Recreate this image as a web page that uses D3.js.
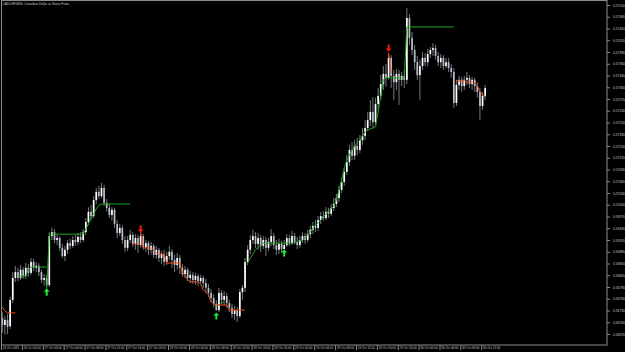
<!DOCTYPE html>
<html>
<head>
<meta charset="utf-8">
<script src="https://cdn.jsdelivr.net/npm/d3@7"></script>
<style>
  html, body { margin: 0; background: #000; }
  svg { display: block; }
</style>
</head>
<body>
<svg id="chart" width="625" height="352"></svg>
<script>
// CADCHF M30 - bars
const symbolTitle = "CADCHF,M30:  Canadian Dollar vs Swiss Franc";

const opens = [
  0.56711,0.56693,0.56706,0.56690,0.56757,0.56813,0.56828,0.56813,0.56834,0.56818,
  0.56839,0.56826,0.56854,0.56839,0.56844,0.56828,0.56808,0.56813,0.56795,0.56920,
  0.56930,0.56910,0.56915,0.56890,0.56869,0.56885,0.56902,0.56895,0.56910,0.56905,
  0.56918,0.56910,0.56930,0.56956,0.56982,0.56971,0.57012,0.57033,0.57022,0.57043,
  0.57005,0.56992,0.56974,0.56987,0.56951,0.56928,0.56941,0.56910,0.56890,0.56910,
  0.56923,0.56900,0.56915,0.56897,0.56920,0.56892,0.56902,0.56885,0.56895,0.56872,
  0.56885,0.56864,0.56874,0.56854,0.56869,0.56880,0.56859,0.56846,0.56864,0.56839,
  0.56823,0.56834,0.56813,0.56821,0.56808,0.56818,0.56805,0.56813,0.56800,0.56788,
  0.56775,0.56762,0.56747,0.56731,0.56775,0.56757,0.56767,0.56749,0.56737,0.56721,
  0.56731,0.56716,0.56777,0.56788,0.56854,0.56885,0.56910,0.56920,0.56900,0.56915,
  0.56895,0.56910,0.56890,0.56905,0.56920,0.56897,0.56885,0.56900,0.56887,0.56897,
  0.56915,0.56902,0.56920,0.56905,0.56897,0.56910,0.56920,0.56910,0.56925,0.56936,
  0.56946,0.56941,0.56961,0.56971,0.56966,0.56982,0.56977,0.56992,0.57002,0.57017,
  0.57038,0.57058,0.57084,0.57109,0.57140,0.57125,0.57150,0.57140,0.57165,0.57176,
  0.57196,0.57216,0.57237,0.57211,0.57257,0.57278,0.57308,0.57334,0.57324,0.57375,
  0.57329,0.57313,0.57334,0.57319,0.57329,0.57319,0.57477,0.57426,0.57395,0.57364,
  0.57331,0.57354,0.57375,0.57364,0.57385,0.57395,0.57400,0.57380,0.57364,0.57375,
  0.57354,0.57364,0.57349,0.57339,0.57260,0.57306,0.57319,0.57303,0.57319,0.57324,
  0.57308,0.57319,0.57303,0.57288,0.57252,0.57278
];
const highs = [
  0.56726,0.56716,0.56721,0.56765,0.56828,0.56844,0.56839,0.56846,0.56841,0.56851,
  0.56849,0.56864,0.56862,0.56854,0.56851,0.56834,0.56823,0.56821,0.56930,0.56941,
  0.56938,0.56925,0.56920,0.56900,0.56895,0.56910,0.56913,0.56920,0.56923,0.56928,
  0.56930,0.56938,0.56966,0.56994,0.56999,0.57022,0.57043,0.57048,0.57056,0.57051,
  0.57015,0.57002,0.56994,0.56992,0.56961,0.56951,0.56948,0.56920,0.56920,0.56936,
  0.56930,0.56925,0.56923,0.56930,0.56925,0.56910,0.56908,0.56905,0.56900,0.56895,
  0.56890,0.56882,0.56885,0.56880,0.56895,0.56887,0.56872,0.56877,0.56872,0.56849,
  0.56844,0.56839,0.56831,0.56828,0.56826,0.56823,0.56821,0.56818,0.56811,0.56798,
  0.56785,0.56772,0.56757,0.56788,0.56782,0.56780,0.56775,0.56757,0.56747,0.56742,
  0.56739,0.56785,0.56795,0.56864,0.56897,0.56923,0.56936,0.56930,0.56928,0.56923,
  0.56920,0.56918,0.56915,0.56938,0.56928,0.56910,0.56913,0.56908,0.56910,0.56925,
  0.56923,0.56933,0.56928,0.56918,0.56920,0.56930,0.56928,0.56936,0.56946,0.56956,
  0.56961,0.56971,0.56982,0.56984,0.56994,0.56992,0.57002,0.57017,0.57028,0.57048,
  0.57068,0.57094,0.57127,0.57153,0.57160,0.57165,0.57171,0.57178,0.57196,0.57216,
  0.57237,0.57267,0.57275,0.57273,0.57298,0.57331,0.57354,0.57359,0.57387,0.57382,
  0.57344,0.57347,0.57344,0.57339,0.57344,0.57502,0.57487,0.57441,0.57408,0.57380,
  0.57370,0.57390,0.57387,0.57398,0.57403,0.57413,0.57408,0.57390,0.57385,0.57382,
  0.57375,0.57375,0.57359,0.57349,0.57319,0.57329,0.57326,0.57329,0.57339,0.57331,
  0.57326,0.57324,0.57313,0.57298,0.57288,0.57306
];
const lows = [
  0.56673,0.56668,0.56670,0.56683,0.56749,0.56803,0.56805,0.56808,0.56811,0.56811,
  0.56816,0.56821,0.56831,0.56828,0.56818,0.56800,0.56793,0.56790,0.56790,0.56910,
  0.56902,0.56897,0.56882,0.56864,0.56856,0.56874,0.56887,0.56890,0.56895,0.56897,
  0.56902,0.56905,0.56923,0.56948,0.56961,0.56966,0.57002,0.57015,0.57017,0.56997,
  0.56982,0.56966,0.56959,0.56941,0.56915,0.56920,0.56900,0.56880,0.56882,0.56902,
  0.56892,0.56885,0.56877,0.56890,0.56885,0.56880,0.56872,0.56874,0.56864,0.56862,
  0.56854,0.56849,0.56844,0.56846,0.56859,0.56839,0.56828,0.56834,0.56823,0.56816,
  0.56813,0.56805,0.56800,0.56798,0.56795,0.56793,0.56798,0.56788,0.56777,0.56765,
  0.56752,0.56737,0.56729,0.56726,0.56747,0.56742,0.56737,0.56726,0.56711,0.56706,
  0.56701,0.56711,0.56757,0.56777,0.56846,0.56874,0.56900,0.56890,0.56885,0.56880,
  0.56887,0.56869,0.56882,0.56895,0.56887,0.56872,0.56874,0.56877,0.56887,0.56892,
  0.56895,0.56897,0.56900,0.56887,0.56890,0.56902,0.56900,0.56905,0.56915,0.56925,
  0.56930,0.56933,0.56951,0.56959,0.56961,0.56966,0.56971,0.56984,0.56994,0.57007,
  0.57030,0.57048,0.57076,0.57099,0.57114,0.57114,0.57127,0.57132,0.57153,0.57165,
  0.57188,0.57201,0.57196,0.57204,0.57242,0.57267,0.57293,0.57301,0.57319,0.57298,
  0.57267,0.57293,0.57255,0.57303,0.57298,0.57308,0.57408,0.57382,0.57344,0.57319,
  0.57267,0.57344,0.57354,0.57354,0.57375,0.57380,0.57370,0.57354,0.57349,0.57344,
  0.57347,0.57339,0.57324,0.57247,0.57252,0.57293,0.57288,0.57293,0.57306,0.57298,
  0.57293,0.57288,0.57273,0.57216,0.57242,0.57267
];
const closes = [
  0.56693,0.56706,0.56688,0.56757,0.56813,0.56828,0.56813,0.56834,0.56818,0.56839,
  0.56826,0.56854,0.56839,0.56844,0.56828,0.56808,0.56813,0.56795,0.56920,0.56930,
  0.56910,0.56915,0.56890,0.56869,0.56885,0.56902,0.56895,0.56910,0.56905,0.56918,
  0.56910,0.56930,0.56956,0.56982,0.56971,0.57012,0.57033,0.57022,0.57043,0.57005,
  0.56992,0.56974,0.56987,0.56951,0.56928,0.56941,0.56910,0.56890,0.56910,0.56923,
  0.56900,0.56915,0.56897,0.56920,0.56892,0.56902,0.56885,0.56895,0.56872,0.56885,
  0.56864,0.56874,0.56854,0.56869,0.56880,0.56859,0.56846,0.56864,0.56839,0.56823,
  0.56834,0.56813,0.56821,0.56808,0.56818,0.56805,0.56813,0.56800,0.56788,0.56775,
  0.56762,0.56747,0.56731,0.56775,0.56757,0.56767,0.56749,0.56737,0.56721,0.56731,
  0.56716,0.56777,0.56788,0.56854,0.56885,0.56910,0.56920,0.56900,0.56915,0.56895,
  0.56910,0.56890,0.56905,0.56920,0.56897,0.56885,0.56900,0.56887,0.56897,0.56915,
  0.56902,0.56920,0.56905,0.56897,0.56910,0.56920,0.56910,0.56925,0.56936,0.56946,
  0.56941,0.56961,0.56971,0.56966,0.56982,0.56977,0.56992,0.57002,0.57017,0.57038,
  0.57058,0.57084,0.57109,0.57140,0.57125,0.57150,0.57140,0.57165,0.57176,0.57196,
  0.57216,0.57237,0.57211,0.57257,0.57278,0.57308,0.57334,0.57324,0.57375,0.57329,
  0.57313,0.57334,0.57319,0.57329,0.57319,0.57477,0.57426,0.57395,0.57364,0.57331,
  0.57354,0.57375,0.57364,0.57385,0.57395,0.57400,0.57380,0.57364,0.57375,0.57354,
  0.57364,0.57349,0.57339,0.57260,0.57306,0.57319,0.57303,0.57319,0.57324,0.57308,
  0.57319,0.57303,0.57288,0.57252,0.57278,0.57298
];

// indicator line vertices: [bar index, price]
const upLines = [
  [[6,0.56818],[9,0.56818],[10,0.56834],[11,0.56841],[17,0.56841]],
  [[17,0.56782],[18,0.56925],[31,0.56925],[32,0.56938],[33,0.56951],[34,0.56964],[35,0.56977],[36,0.56989],[37,0.56999],[38,0.57002],[49,0.57002]],
  [[82,0.56739],[83,0.56744],[84,0.56749],[85,0.56752]],
  [[94,0.56851],[95,0.56864],[96,0.56874],[97,0.56885],[98,0.56890],[99,0.56897],[100,0.56902],[112,0.56902],[113,0.56905],[114,0.56908],[115,0.56910],[116,0.56915],[117,0.56923],[118,0.56930],[119,0.56941],[120,0.56948],[121,0.56954],[122,0.56961],[123,0.56969],[124,0.56977],[125,0.56984],[126,0.56989],[127,0.56997],[128,0.57012],[129,0.57038],[130,0.57063],[131,0.57094],[132,0.57114],[133,0.57127],[134,0.57140],[135,0.57148],[136,0.57158],[137,0.57165],[138,0.57176],[139,0.57186],[140,0.57191],[141,0.57194],[142,0.57196],[143,0.57199],[144,0.57237],[145,0.57278],[146,0.57319],[147,0.57324],[154,0.57324],[155,0.57454],[173,0.57454]]
];
const downLines = [
  [[0,0.56739],[1,0.56729],[2,0.56724],[5,0.56724]],
  [[50,0.56900],[53,0.56900]],
  [[53,0.56930],[54,0.56890],[57,0.56890],[58,0.56885],[59,0.56877],[60,0.56874],[62,0.56874],[63,0.56851],[68,0.56851],[69,0.56828],[70,0.56818],[71,0.56808],[72,0.56803],[75,0.56803],[76,0.56798],[77,0.56782],[78,0.56777],[79,0.56770],[80,0.56752],[81,0.56747],[82,0.56744],[86,0.56744],[87,0.56731],[93,0.56731]],
  [[148,0.57387],[149,0.57336]],
  [[174,0.57316],[177,0.57316],[178,0.57313],[180,0.57313],[181,0.57311],[182,0.57303],[183,0.57290],[184,0.57280],[185,0.57275]]
];

// signal arrows: [bar index, price]
const buyArrows = [[17,0.56777],[82,0.56716],[108,0.56877]];
const sellArrows = [[53,0.56938],[148,0.57400]];

const priceTicks = [0.57510,0.57480,0.57450,0.57420,0.57390,0.57360,0.57330,0.57300,0.57270,0.57240,
  0.57210,0.57180,0.57150,0.57120,0.57090,0.57060,0.57030,0.57000,0.56970,0.56940,
  0.56910,0.56880,0.56850,0.56820,0.56790,0.56760,0.56730,0.56700,0.56670];

const timeLabels = ["24 Oct 2025","24 Oct 20:00","27 Oct 00:00","27 Oct 04:00","27 Oct 08:00","27 Oct 12:00",
  "27 Oct 16:00","27 Oct 20:00","28 Oct 00:00","28 Oct 04:00","28 Oct 08:00","28 Oct 12:00",
  "28 Oct 16:00","28 Oct 20:00","29 Oct 00:00","29 Oct 04:00","29 Oct 08:00","29 Oct 12:00",
  "29 Oct 16:00","29 Oct 20:00","30 Oct 00:00","30 Oct 04:00","30 Oct 08:00","30 Oct 12:00"];
const barsPerLabel = 8; // 4h / 30min

const W = 625, H = 352;
const plotLeft = 1, plotRight = 607, plotTop = 1, plotBottom = 345;
const barStep = 2.61;
const font = "'Liberation Sans', Arial, sans-serif";

const svg = d3.select("#chart");
svg.append("rect").attr("width", W).attr("height", H).attr("fill", "#000");

const x = d3.scaleLinear().domain([0, 232]).range([plotLeft, plotLeft + 232 * barStep]);
const xc = i => x(i) + barStep / 2;
const y = d3.scaleLinear().domain([0.56670, 0.57510]).range([334, 5]);

// candles
const bars = d3.range(closes.length);
const g = svg.append("g");
g.selectAll("line.wick").data(bars).join("line")
  .attr("class", "wick")
  .attr("x1", i => xc(i)).attr("x2", i => xc(i))
  .attr("y1", i => y(highs[i])).attr("y2", i => y(lows[i]))
  .attr("stroke", "#8f969f").attr("stroke-width", 0.8);
g.selectAll("rect.body").data(bars).join("rect")
  .attr("class", "body")
  .attr("x", i => xc(i) - 0.85).attr("width", 1.7)
  .attr("y", i => y(Math.max(opens[i], closes[i])))
  .attr("height", i => Math.max(0.8, Math.abs(y(opens[i]) - y(closes[i]))))
  .attr("fill", i => closes[i] >= opens[i] ? "#ffffff" : "#b6bec9");

// indicator lines
const line = d3.line().x(d => xc(d[0])).y(d => y(d[1]));
svg.append("g").selectAll("path").data(upLines).join("path")
  .attr("d", line).attr("fill", "none").attr("stroke", "#1fa51f").attr("stroke-width", 1);
svg.append("g").selectAll("path").data(downLines).join("path")
  .attr("d", line).attr("fill", "none").attr("stroke", "#f04a18").attr("stroke-width", 1);

// arrows
const upShape = [[0,-3.6],[3,-0.4],[1,-0.4],[1,3.6],[-1,3.6],[-1,-0.4],[-3,-0.4]];
const shapePath = (pts, cx, cy, flip) => "M" + pts.map(p => (cx + p[0]) + "," + (cy + p[1] * flip)).join("L") + "Z";
svg.append("g").selectAll("path").data(buyArrows).join("path")
  .attr("d", d => shapePath(upShape, xc(d[0]), y(d[1]), 1))
  .attr("fill", "#1ee63a");
svg.append("g").selectAll("path").data(sellArrows).join("path")
  .attr("d", d => shapePath(upShape, xc(d[0]), y(d[1]), -1))
  .attr("fill", "#f01e00");

// frame
svg.append("rect")
  .attr("x", plotLeft + 0.5).attr("y", plotTop - 0.5)
  .attr("width", plotRight - plotLeft - 0.5).attr("height", plotBottom - plotTop + 0.5)
  .attr("fill", "none").attr("stroke", "#8c8c8c").attr("stroke-width", 1);

// price axis
const yAxis = svg.append("g").attr("transform", `translate(${plotRight},0)`)
  .call(d3.axisRight(y).tickValues(priceTicks).tickFormat(d3.format(".5f")).tickSize(3).tickPadding(3));
yAxis.select(".domain").remove();
yAxis.selectAll("line").attr("stroke", "#8c8c8c");
yAxis.selectAll("text").attr("fill", "#c8c8c8").style("font-family", font).style("font-size", "3.3px");

// time axis
const timeTicks = timeLabels.map((t, k) => k * barsPerLabel);
const xAxis = svg.append("g").attr("transform", `translate(0,${plotBottom})`)
  .call(d3.axisBottom(x).tickValues(timeTicks).tickFormat((d, k) => timeLabels[k]).tickSize(5));
xAxis.select(".domain").remove();
xAxis.selectAll("line").attr("stroke", "#8c8c8c");
xAxis.selectAll("text")
  .attr("text-anchor", "start").attr("x", 1.3).attr("y", 2.3).attr("dy", "0.71em")
  .attr("fill", "#c8c8c8").style("font-family", font).style("font-size", "3px");

// title
svg.append("text").attr("x", 2.5).attr("y", 5.2)
  .attr("fill", "#c8c8c8").style("font-family", font).style("font-size", "3.2px")
  .text(symbolTitle);
</script>
</body>
</html>
